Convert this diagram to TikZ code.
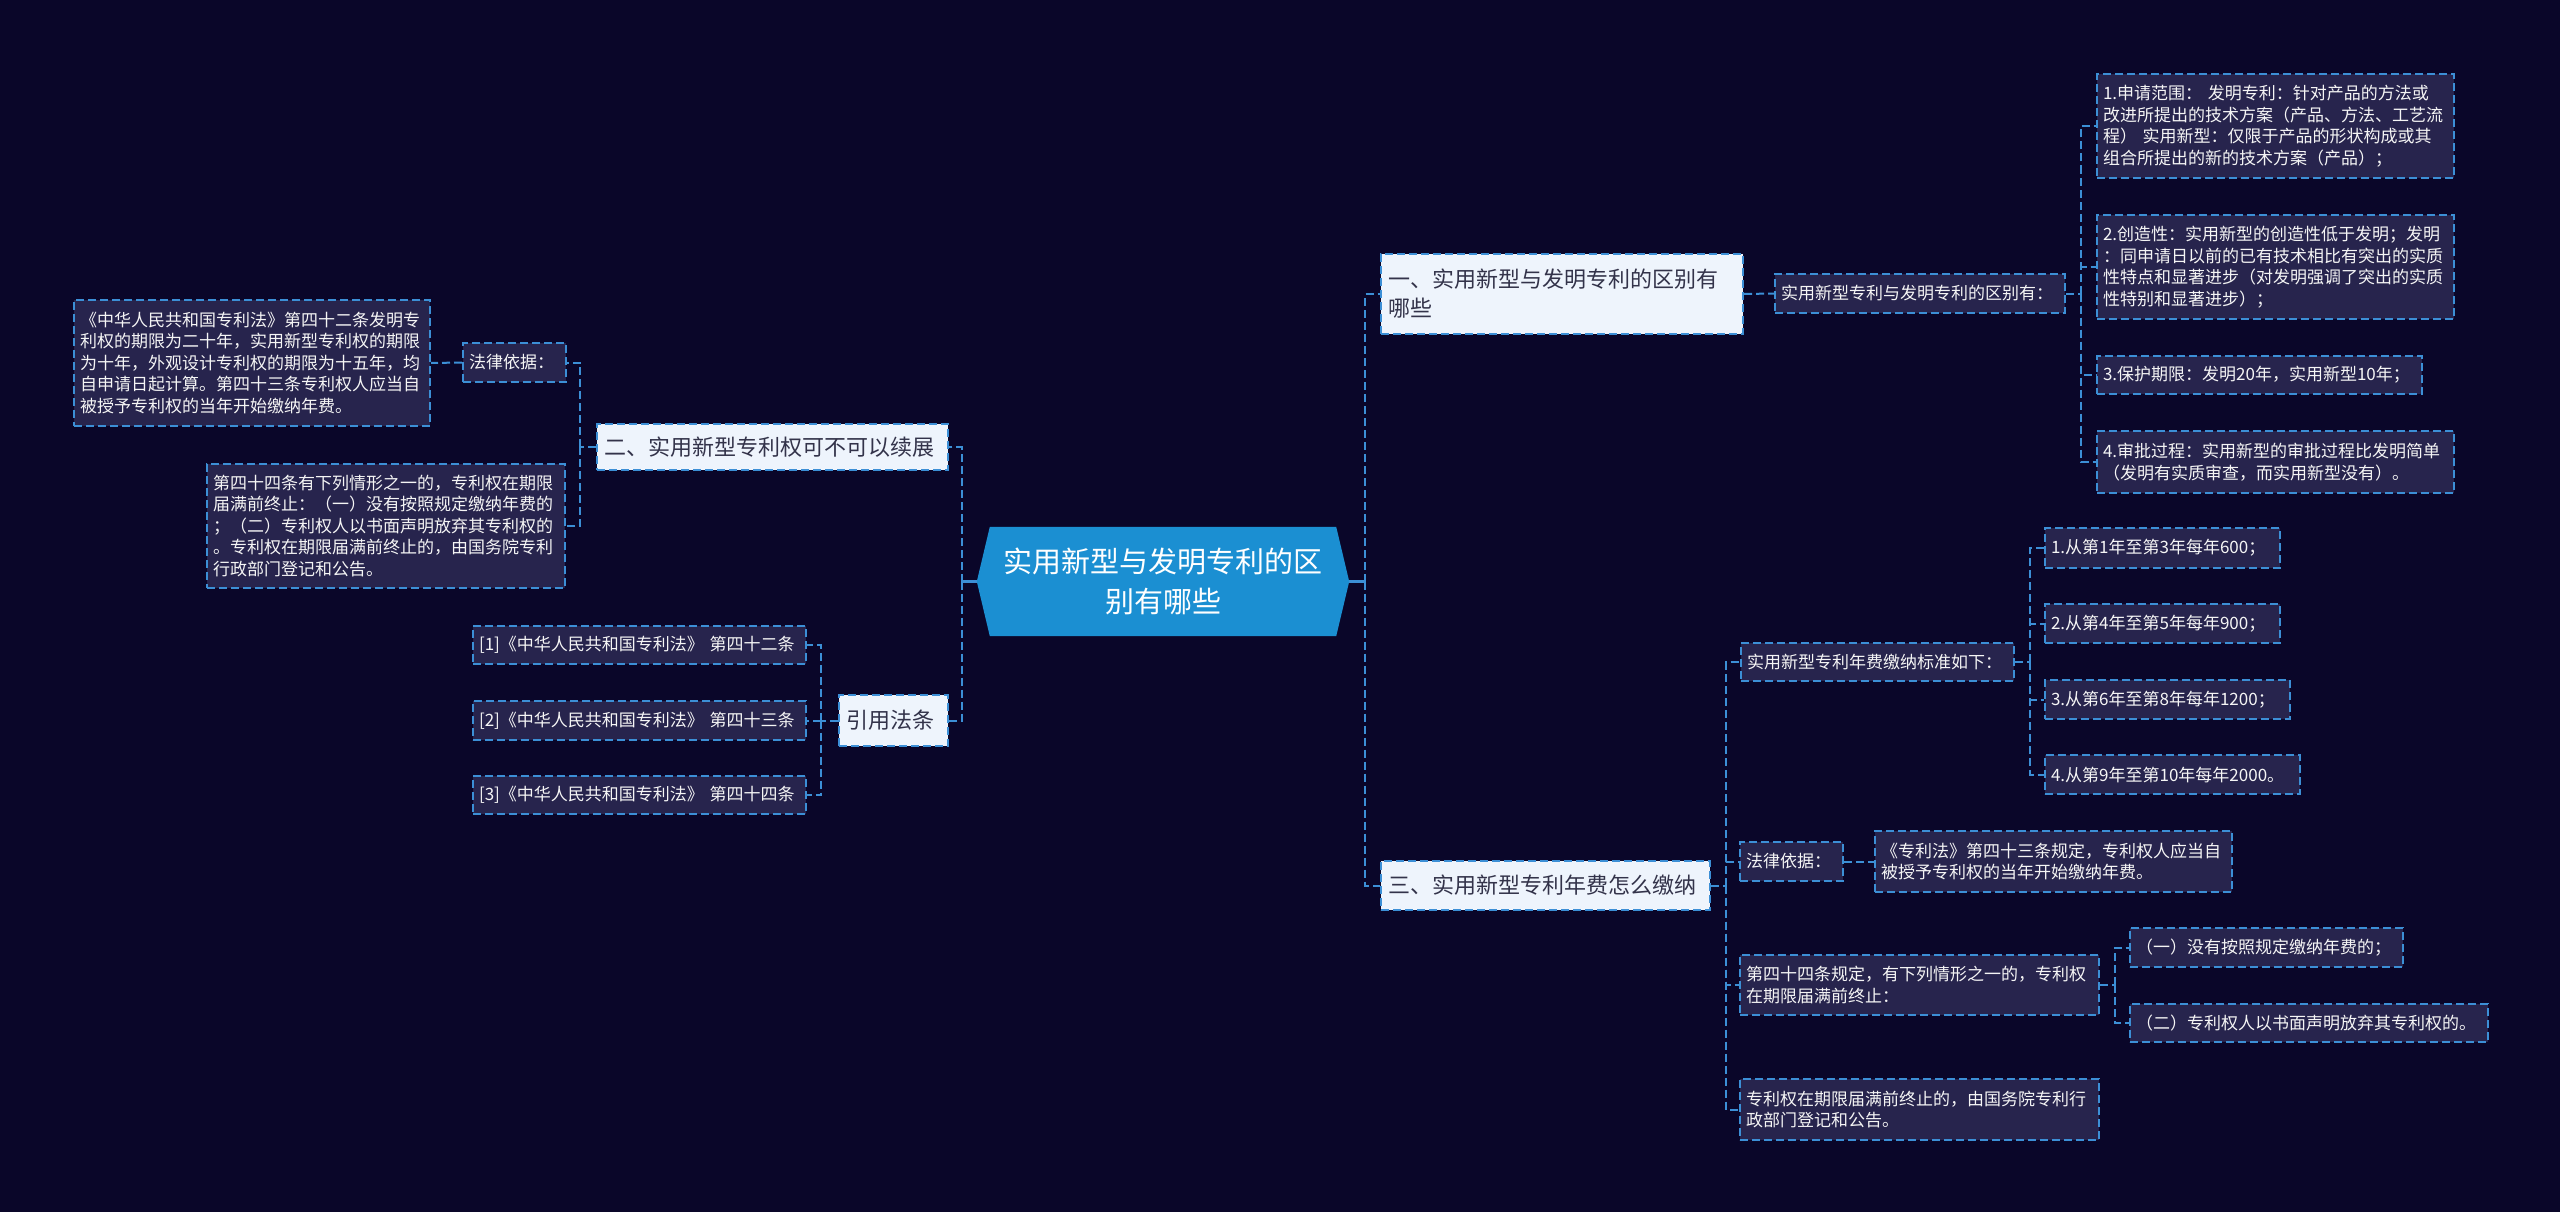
\documentclass[tikz,border=0pt]{standalone}
\usepackage{fontspec}
\setmainfont{Noto Sans CJK SC}
\usetikzlibrary{backgrounds}
\definecolor{bgnavy}{HTML}{0A0629}
\definecolor{leaffill}{HTML}{27244D}
\definecolor{topicfill}{HTML}{EEF4FC}
\definecolor{linkblue}{HTML}{3C8FD6}
\definecolor{rootblue}{HTML}{1B8FD2}
\definecolor{topictext}{HTML}{33334A}
\begin{document}
\begin{tikzpicture}[
    x=1pt, y=-1pt,
    root/.style={text=white, font=\fontsize{29}{40}\selectfont, align=center,
        minimum width=372pt, minimum height=109pt, inner sep=0pt},
    topic/.style={anchor=north west, fill=topicfill, draw=linkblue, line width=2pt,
        dash pattern=on 8pt off 4pt, text=topictext, align=left,
        font=\fontsize{22}{29}\selectfont, inner xsep=7pt, inner ysep=0pt},
    leaf/.style={anchor=north west, fill=leaffill, draw=linkblue, line width=2pt,
        dash pattern=on 8pt off 4pt, text=white!96!black, align=left,
        font=\fontsize{17}{21.5}\selectfont, inner xsep=6pt, inner ysep=0pt},
    link/.style={linkblue, line width=2pt, dash pattern=on 8pt off 4pt},
    rootlink/.style={linkblue, line width=2.2pt}
]

\useasboundingbox (0,0) rectangle (2560,1212);

% 中心主题
\node[root] (root) at (1163,581.5) {实用新型与发明专利的区\\别有哪些};

% 一级主题
\node[topic, text width=348pt, minimum height=80pt] (r1) at (1380,253) {一、实用新型与发明专利的区别有\\哪些};
\node[topic, text width=315pt, minimum height=49pt] (r3) at (1380,860) {三、实用新型专利年费怎么缴纳};
\node[topic, text width=337pt, minimum height=46pt] (l2) at (596,423) {二、实用新型专利权可不可以续展};
\node[topic, text width=95pt, minimum height=51pt] (l4) at (838,694) {引用法条};

% 右上分支
\node[leaf, text width=278pt, minimum height=39pt] (r1a) at (1774,273) {实用新型专利与发明专利的区别有：};
\node[leaf, text width=345pt, minimum height=104pt] (r1b1) at (2096,73) {1.申请范围： 发明专利：针对产品的方法或\\改进所提出的技术方案（产品、方法、工艺流\\程） 实用新型：仅限于产品的形状构成或其\\组合所提出的新的技术方案（产品）；};
\node[leaf, text width=345pt, minimum height=104pt] (r1b2) at (2096,214) {2.创造性：实用新型的创造性低于发明；发明\\：同申请日以前的已有技术相比有突出的实质\\性特点和显著进步（对发明强调了突出的实质\\性特别和显著进步）；};
\node[leaf, text width=313pt, minimum height=38pt] (r1b3) at (2096,355) {3.保护期限：发明20年，实用新型10年；};
\node[leaf, text width=345pt, minimum height=62pt] (r1b4) at (2096,430) {4.审批过程：实用新型的审批过程比发明简单\\（发明有实质审查，而实用新型没有）。};

% 右下分支
\node[leaf, text width=261pt, minimum height=38pt] (r3a) at (1740,642) {实用新型专利年费缴纳标准如下：};
\node[leaf, text width=223pt, minimum height=40pt] (r3a1) at (2044,527) {1.从第1年至第3年每年600；};
\node[leaf, text width=223pt, minimum height=39pt] (r3a2) at (2044,603) {2.从第4年至第5年每年900；};
\node[leaf, text width=233pt, minimum height=39pt] (r3a3) at (2044,679) {3.从第6年至第8年每年1200；};
\node[leaf, text width=243pt, minimum height=39pt] (r3a4) at (2044,754) {4.从第9年至第10年每年2000。};
\node[leaf, text width=91pt, minimum height=39pt] (r3b) at (1739,841) {法律依据：};
\node[leaf, text width=345pt, minimum height=61pt] (r3b1) at (1874,830) {《专利法》第四十三条规定，专利权人应当自\\被授予专利权的当年开始缴纳年费。};
\node[leaf, text width=347pt, minimum height=60pt] (r3c) at (1739,954) {第四十四条规定，有下列情形之一的，专利权\\在期限届满前终止：};
\node[leaf, text width=261pt, minimum height=39pt] (r3c1) at (2129,927) {（一）没有按照规定缴纳年费的；};
\node[leaf, text width=346pt, minimum height=38pt] (r3c2) at (2129,1003) {（二）专利权人以书面声明放弃其专利权的。};
\node[leaf, text width=347pt, minimum height=61pt] (r3d) at (1739,1078) {专利权在期限届满前终止的，由国务院专利行\\政部门登记和公告。};

% 左侧分支
\node[leaf, text width=91pt, minimum height=39pt] (l2a) at (462,342) {法律依据：};
\node[leaf, text width=344pt, minimum height=126pt] (l2a1) at (73,299) {《中华人民共和国专利法》第四十二条发明专\\利权的期限为二十年，实用新型专利权的期限\\为十年，外观设计专利权的期限为十五年，均\\自申请日起计算。第四十三条专利权人应当自\\被授予专利权的当年开始缴纳年费。};
\node[leaf, text width=346pt, minimum height=124pt] (l2b) at (206,463) {第四十四条有下列情形之一的，专利权在期限\\届满前终止：（一）没有按照规定缴纳年费的\\；（二）专利权人以书面声明放弃其专利权的\\。专利权在期限届满前终止的，由国务院专利\\行政部门登记和公告。};
\node[leaf, text width=321pt, minimum height=38pt] (l4a) at (472,625) {[1]《中华人民共和国专利法》 第四十二条};
\node[leaf, text width=321pt, minimum height=39pt] (l4b) at (472,700) {[2]《中华人民共和国专利法》 第四十三条};
\node[leaf, text width=321pt, minimum height=38pt] (l4c) at (472,775) {[3]《中华人民共和国专利法》 第四十四条};

% 背景与中心形状
\begin{pgfonlayer}{background}
\fill[bgnavy] (0,0) rectangle (2560,1212);
\fill[rootblue] ([xshift=13pt]root.north west) -- ([xshift=-13pt]root.north east) -- (root.east)
    -- ([xshift=-13pt]root.south east) -- ([xshift=13pt]root.south west) -- (root.west) -- cycle;
\end{pgfonlayer}

% 连线
\draw[rootlink] (root.east) -- ++(16,0) coordinate (rj);
\draw[rootlink] (root.west) -- ++(-15,0) coordinate (lj);
\draw[link] (rj) |- (r1.west);
\draw[link] (rj) |- (r3.west);
\draw[link] (lj) |- (l2.east);
\draw[link] (lj) |- (l4.east);

\draw[link] (r1.east) -- (r1a.west);
\draw[link] (r1a.east) -- ++(15,0) coordinate (r1j);
\draw[link] (r1j) |- (r1b1.west);
\draw[link] (r1j) |- (r1b2.west);
\draw[link] (r1j) |- (r1b3.west);
\draw[link] (r1j) |- (r1b4.west);

\draw[link] (r3.east) -- ++(15,0) coordinate (r3j);
\draw[link] (r3j) |- (r3a.west);
\draw[link] (r3j) |- (r3b.west);
\draw[link] (r3j) |- (r3c.west);
\draw[link] (r3j) |- (r3d.west);
\draw[link] (r3a.east) -- ++(15,0) coordinate (r3aj);
\draw[link] (r3aj) |- (r3a1.west);
\draw[link] (r3aj) |- (r3a2.west);
\draw[link] (r3aj) |- (r3a3.west);
\draw[link] (r3aj) |- (r3a4.west);
\draw[link] (r3b.east) -- (r3b1.west);
\draw[link] (r3c.east) -- ++(15,0) coordinate (r3cj);
\draw[link] (r3cj) |- (r3c1.west);
\draw[link] (r3cj) |- (r3c2.west);

\draw[link] (l2.west) -- ++(-16,0) coordinate (l2j);
\draw[link] (l2j) |- (l2a.east);
\draw[link] (l2j) |- (l2b.east);
\draw[link] (l2a.west) -- (l2a1.east);
\draw[link] (l4.west) -- ++(-17,0) coordinate (l4j);
\draw[link] (l4j) |- (l4a.east);
\draw[link] (l4j) |- (l4b.east);
\draw[link] (l4j) |- (l4c.east);

\end{tikzpicture}
\end{document}
